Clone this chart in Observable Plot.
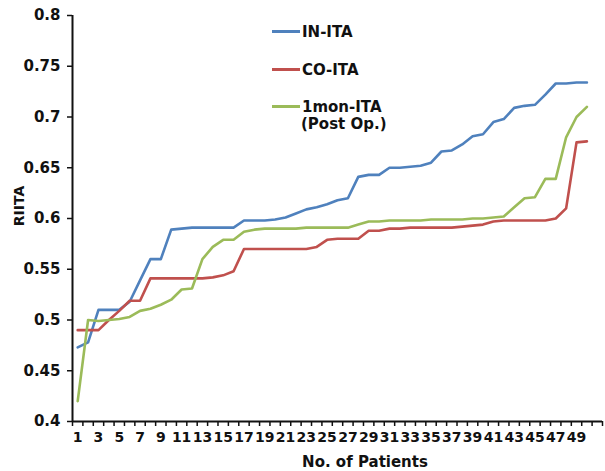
<!DOCTYPE html>
<html>
<head>
<meta charset="utf-8">
<script src="https://cdn.jsdelivr.net/npm/d3@7"></script>
<script src="https://cdn.jsdelivr.net/npm/@observablehq/plot@0.6"></script>
<style>
  html, body { margin: 0; padding: 0; background: #fff; }
  #chart svg { display: block; }
</style>
</head>
<body>
<div id="chart"></div>
<script>
// ---- Data ----
const patients = d3.range(1, 51);
const seriesNames = ["IN-ITA", "CO-ITA", "1mon-ITA"];
const seriesColors = ["#4f81bd", "#c0504d", "#9bbb59"];

const inITA = [
  0.473, 0.478, 0.510, 0.510, 0.510, 0.518, 0.539, 0.560, 0.560, 0.589,
  0.590, 0.591, 0.591, 0.591, 0.591, 0.591, 0.598, 0.598, 0.598, 0.599,
  0.601, 0.605, 0.609, 0.611, 0.614, 0.618, 0.620, 0.641, 0.643, 0.643,
  0.650, 0.650, 0.651, 0.652, 0.655, 0.666, 0.667, 0.673, 0.681, 0.683,
  0.695, 0.698, 0.709, 0.711, 0.712, 0.722, 0.733, 0.733, 0.734, 0.734
];
const coITA = [
  0.490, 0.490, 0.490, 0.500, 0.509, 0.519, 0.519, 0.541, 0.541, 0.541,
  0.541, 0.541, 0.541, 0.542, 0.544, 0.548, 0.570, 0.570, 0.570, 0.570,
  0.570, 0.570, 0.570, 0.572, 0.579, 0.580, 0.580, 0.580, 0.588, 0.588,
  0.590, 0.590, 0.591, 0.591, 0.591, 0.591, 0.591, 0.592, 0.593, 0.594,
  0.597, 0.598, 0.598, 0.598, 0.598, 0.598, 0.600, 0.610, 0.675, 0.676
];
const monITA = [
  0.420, 0.500, 0.499, 0.500, 0.501, 0.503, 0.509, 0.511, 0.515, 0.520,
  0.530, 0.531, 0.560, 0.572, 0.579, 0.579, 0.587, 0.589, 0.590, 0.590,
  0.590, 0.590, 0.591, 0.591, 0.591, 0.591, 0.591, 0.594, 0.597, 0.597,
  0.598, 0.598, 0.598, 0.598, 0.599, 0.599, 0.599, 0.599, 0.600, 0.600,
  0.601, 0.602, 0.611, 0.620, 0.621, 0.639, 0.639, 0.680, 0.700, 0.710
];

const yTicks = [0.4, 0.45, 0.5, 0.55, 0.6, 0.65, 0.7, 0.75, 0.8];
const xLabelTicks = d3.range(1, 50, 2);          // 1,3,...,49
const xCategoryEdges = d3.range(0.5, 52, 1);      // tick marks between categories
const xDomain = [0.5, 51.5];

const legendLabels = ["IN-ITA", "CO-ITA", "1mon-ITA"];
const legendSub = "(Post Op.)";
const xTitle = "No. of Patients";
const yTitle = "RIITA";

// ---- Table for Plot ----
const allSeries = [inITA, coITA, monITA];
const table = [];
allSeries.forEach((vals, s) => {
  vals.forEach((v, i) => table.push({patient: patients[i], value: v, series: seriesNames[s]}));
});

const W = 605, H = 471;
const chart = Plot.plot({
  width: W,
  height: H,
  marginLeft: 72,
  marginRight: 3,
  marginTop: 15,
  marginBottom: 50,
  style: {
    background: "#fff",
    color: "#111",
    fontFamily: "'DejaVu Sans', sans-serif",
    fontWeight: "bold",
    fontSize: "15px",
    overflow: "visible"
  },
  x: {domain: xDomain},
  y: {domain: [0.4, 0.8]},
  color: {domain: seriesNames, range: seriesColors},
  marks: [
    Plot.axisY({
      ticks: yTicks, tickSize: 5, tickPadding: 7, label: null,
      tickFormat: d => String(+d.toFixed(2)), fontSize: 15, stroke: "#111", strokeWidth: 1.5
    }),
    Plot.axisX({
      ticks: xCategoryEdges, tickSize: 5, tickFormat: () => "", label: null,
      stroke: "#111", strokeWidth: 1.5
    }),
    Plot.axisX({
      ticks: xLabelTicks, tickSize: 0, tickPadding: 11, label: null,
      tickFormat: d => String(d), fontSize: 14
    }),
    Plot.ruleX([xDomain[0]], {y1: 0.4, y2: 0.8, stroke: "#111", strokeWidth: 2}),
    Plot.ruleY([0.4], {x1: xDomain[0], x2: xDomain[1], stroke: "#111", strokeWidth: 2}),
    Plot.lineY(table, {
      x: "patient", y: "value", z: "series", stroke: "series",
      strokeWidth: 2.6, strokeLinejoin: "round", strokeLinecap: "round"
    })
  ]
});

document.getElementById("chart").appendChild(chart);

// ---- Axis titles and in-plot legend ----
const svg = d3.select(chart);
const g = svg.append("g")
  .attr("font-family", "'DejaVu Sans', sans-serif")
  .attr("font-weight", "bold")
  .attr("text-anchor", "start")
  .attr("fill", "#111");

g.append("text")
  .attr("x", 365).attr("y", 467)
  .attr("text-anchor", "middle")
  .attr("font-size", 15)
  .text(xTitle);

g.append("text")
  .attr("transform", "translate(23.5,206) rotate(-90)")
  .attr("text-anchor", "middle")
  .attr("font-size", 14)
  .text(yTitle);

const legendRows = [
  {y: 31.5, base: 37},
  {y: 69.5, base: 75},
  {y: 106.5, base: 112}
];
legendRows.forEach((r, i) => {
  g.append("line")
    .attr("x1", 272).attr("x2", 300)
    .attr("y1", r.y).attr("y2", r.y)
    .attr("stroke", seriesColors[i]).attr("stroke-width", 3);
  g.append("text")
    .attr("x", 302).attr("y", r.base)
    .attr("text-anchor", "start")
    .attr("font-size", 15)
    .text(legendLabels[i]);
});
g.append("text")
  .attr("x", 301).attr("y", 128.5)
  .attr("text-anchor", "start")
  .attr("font-size", 15)
  .text(legendSub);
</script>
</body>
</html>
